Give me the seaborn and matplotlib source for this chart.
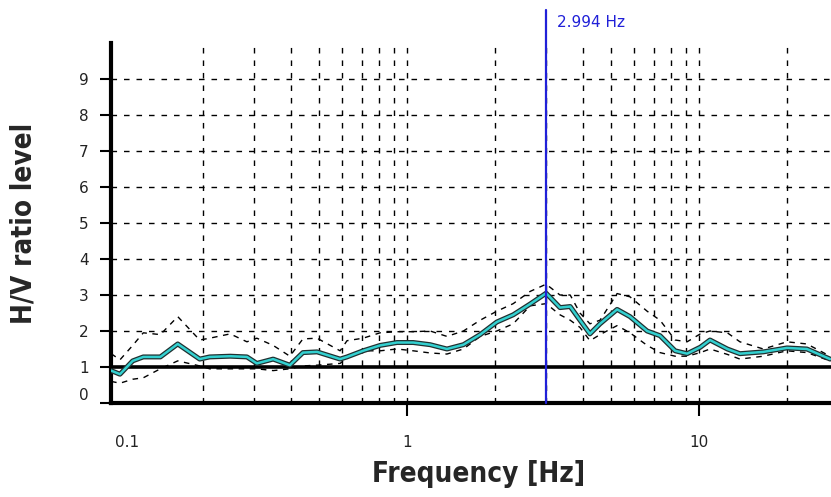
import numpy as np
import pandas as pd
import matplotlib
matplotlib.use("Agg")
import matplotlib.pyplot as plt
import matplotlib.patheffects as pe
import seaborn as sns

# ---- data ----
freq = [0.097, 0.104, 0.115, 0.125, 0.143, 0.164, 0.195, 0.211, 0.248, 0.283,
        0.306, 0.348, 0.397, 0.440, 0.492, 0.590, 0.623, 0.707, 0.809, 0.924,
        1.05, 1.20, 1.37, 1.56, 1.78, 2.03, 2.31, 2.64, 2.994, 3.34,
        3.62, 3.91, 4.23, 4.58, 5.24, 5.80, 6.64, 7.35, 8.28, 9.10,
        10.1, 10.9, 12.5, 13.8, 16.6, 20.0, 23.4, 28.1]
hv_mean = [0.90, 0.80, 1.17, 1.28, 1.28, 1.64, 1.22, 1.28, 1.30, 1.28,
           1.10, 1.22, 1.05, 1.40, 1.42, 1.22, 1.28, 1.45, 1.60, 1.68,
           1.68, 1.62, 1.50, 1.62, 1.90, 2.25, 2.45, 2.75, 3.05, 2.65,
           2.68, 2.30, 1.92, 2.20, 2.60, 2.40, 2.00, 1.87, 1.45, 1.37,
           1.55, 1.75, 1.50, 1.37, 1.42, 1.53, 1.50, 1.22]
hv_upper = [1.37, 1.20, 1.60, 1.95, 1.90, 2.40, 1.75, 1.80, 1.92, 1.70,
            1.80, 1.60, 1.30, 1.78, 1.80, 1.45, 1.73, 1.80, 1.95, 1.98,
            1.98, 2.00, 1.85, 2.00, 2.30, 2.55, 2.76, 3.10, 3.30, 3.00,
            3.00, 2.50, 2.20, 2.30, 3.04, 2.95, 2.55, 2.30, 1.75, 1.70,
            1.92, 2.00, 1.95, 1.70, 1.50, 1.70, 1.64, 1.30]
hv_lower = [0.60, 0.55, 0.66, 0.70, 0.95, 1.17, 1.03, 0.95, 0.95, 0.95,
            0.95, 0.90, 0.95, 1.03, 1.05, 1.10, 1.25, 1.45, 1.45, 1.50,
            1.45, 1.39, 1.36, 1.50, 1.85, 2.00, 2.20, 2.70, 2.76, 2.45,
            2.30, 2.10, 1.73, 1.90, 2.15, 1.95, 1.60, 1.40, 1.30, 1.30,
            1.40, 1.50, 1.35, 1.22, 1.30, 1.45, 1.40, 1.17]
peak_freq = 2.994
peak_label = "2.994 Hz"
y_ticks = [0, 1, 2, 3, 4, 5, 6, 7, 8, 9]
x_ticks = [0.1, 1, 10]
x_ticklabels = ["0.1", "1", "10"]

df = pd.DataFrame({"freq": freq, "mean": hv_mean, "upper": hv_upper, "lower": hv_lower})

sns.set_style("white")
plt.rcParams["font.family"] = ["DejaVu Sans"]

fig = plt.figure(figsize=(8.31, 4.97), dpi=100)
ax = fig.add_axes([111 / 831, 94 / 497, 1 - 111 / 831, (403 - 43) / 497])

ax.set_xscale("log")
ax.set_xlim(0.0969, 28.3)
ax.set_ylim(0, 10)

# grid
ax.set_xticks(x_ticks)
ax.set_xticklabels(x_ticklabels)
ax.xaxis.set_minor_locator(matplotlib.ticker.LogLocator(base=10, subs=np.arange(2, 10)))
ax.xaxis.set_minor_formatter(matplotlib.ticker.NullFormatter())
ax.set_yticks(y_ticks)
ax.grid(True, which="both", axis="x", color="black", linestyle=(0, (4, 5)), linewidth=1.0)
ax.grid(True, which="major", axis="y", color="black", linestyle=(0, (4, 5)), linewidth=1.0)
ax.set_axisbelow(True)
ax.get_xgridlines()[0].set_visible(False)
for gl in ax.get_ygridlines()[:2]:
    gl.set_visible(False)

# reference line at 1
ax.axhline(1, color="black", linewidth=2.6, zorder=2)

# std curves
sns.lineplot(data=df, x="freq", y="upper", ax=ax, color="black", linewidth=1.0,
             linestyle=(0, (4, 4)), estimator=None, sort=False, zorder=3)
sns.lineplot(data=df, x="freq", y="lower", ax=ax, color="black", linewidth=1.0,
             linestyle=(0, (4, 4)), estimator=None, sort=False, zorder=3)
# mean curve
sns.lineplot(data=df, x="freq", y="mean", ax=ax, color="#33d0d0", linewidth=1.8,
             estimator=None, sort=False, zorder=4,
             path_effects=[pe.Stroke(linewidth=3.6, foreground="#203030"), pe.Normal()])

# peak line
ax.axvline(peak_freq, ymin=0, ymax=(403 - 10) / (403 - 43), color="#2020d8",
           linewidth=1.6, clip_on=False, zorder=5)
ax.annotate(peak_label, xy=(peak_freq, 1.0), xycoords=("data", "axes fraction"),
            xytext=(8, 15), textcoords="offset points", color="#2020d8",
            fontsize=11, ha="left", va="center", annotation_clip=False)

# spines
for s in ["top", "right"]:
    ax.spines[s].set_visible(False)
for s in ["left", "bottom"]:
    ax.spines[s].set_linewidth(3)
    ax.spines[s].set_color("black")

ax.tick_params(axis="y", which="major", direction="out", length=8, width=1.5,
               pad=8, labelsize=11, labelcolor="#222222", left=True, color="black")
ax.tick_params(axis="x", which="major", direction="out", length=9, width=1.5,
               pad=14, labelsize=11, labelcolor="#222222", bottom=True, color="black")
ax.tick_params(axis="x", which="minor", length=0)
ax.xaxis.get_major_ticks()[0].tick1line.set_visible(False)
ax.get_xticklabels()[0].set_horizontalalignment("left")
ax.get_yticklabels()[0].set_verticalalignment("bottom")

ax.set_xlabel("Frequency [Hz]", fontsize=20, fontweight="bold", fontstretch="condensed")
ax.xaxis.set_label_coords(0.51, -0.158)
ax.set_ylabel("H/V ratio level", fontsize=20, fontweight="bold", fontstretch="condensed")
ax.yaxis.set_label_coords(-0.102, 0.5)
ax.set_title("")

fig.savefig("out.png", dpi=100)
